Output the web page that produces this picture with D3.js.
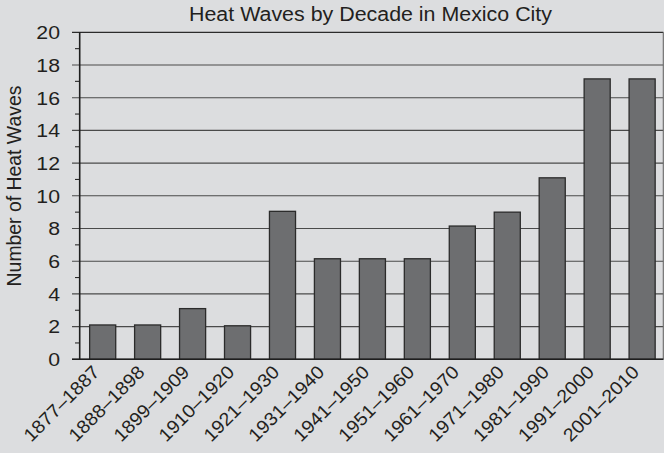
<!DOCTYPE html>
<html>
<head>
<meta charset="utf-8">
<script src="https://cdn.jsdelivr.net/npm/d3@7"></script>
<style>
  html, body { margin: 0; padding: 0; background: #dcdddf; }
  svg { display: block; }
  text { font-family: "Liberation Sans", Arial, Helvetica, sans-serif; fill: #231f20; }
</style>
</head>
<body>
<svg id="chart" width="664" height="453"></svg>
<script>
const categories = ["1877–1887","1888–1898","1899–1909","1910–1920","1921–1930","1931–1940","1941–1950","1951–1960","1961–1970","1971–1980","1981–1990","1991–2000","2001–2010"];
const heatWaves = [2.1, 2.1, 3.1, 2.05, 9.05, 6.15, 6.15, 6.15, 8.15, 9.0, 11.1, 17.15, 17.15];
const majorTicks = [0, 2, 4, 6, 8, 10, 12, 14, 16, 18, 20];
const minorTicks = [1, 3, 5, 7, 9, 11, 13, 15, 17, 19];
const titleText = "Heat Waves by Decade in Mexico City";
const yLabelText = "Number of Heat Waves";

(function () {
const svg = d3.select("#chart");
const W = 664, H = 453;
const pLeft = 79.7, pRight = 663.3, pTop = 32.3, pBottom = 359.3;

svg.append("rect").attr("width", W).attr("height", H).attr("fill", "#dcdddf");

const x = d3.scaleBand().domain(categories).range([80.2, 664.6]).paddingInner(0.42).paddingOuter(0.21);
const y = d3.scaleLinear().domain([0, 20]).range([pBottom, pTop]);

svg.append("g").selectAll("line").data(majorTicks).join("line")
  .attr("x1", 72).attr("x2", pRight)
  .attr("y1", d => y(d)).attr("y2", d => y(d))
  .attr("stroke", d => (d === 0 || d === 20) ? "#2b2b2b" : "#4a4a4a")
  .attr("stroke-width", d => (d === 0 || d === 20) ? 1.3 : 1.1);

svg.append("g").selectAll("line").data(minorTicks).join("line")
  .attr("x1", 75).attr("x2", pLeft)
  .attr("y1", d => y(d)).attr("y2", d => y(d))
  .attr("stroke", "#2b2b2b").attr("stroke-width", 1.1);

svg.append("g").selectAll("rect").data(categories).join("rect")
  .attr("x", d => x(d))
  .attr("y", (d, i) => y(heatWaves[i]))
  .attr("width", x.bandwidth())
  .attr("height", (d, i) => y(0) - y(heatWaves[i]))
  .attr("fill", "#6d6e70")
  .attr("stroke", "#2b2b2b")
  .attr("stroke-width", 1.3);

svg.append("line").attr("x1", pLeft).attr("x2", pLeft).attr("y1", pTop).attr("y2", pBottom + 0.6)
  .attr("stroke", "#1e1e1e").attr("stroke-width", 1.6);
svg.append("line").attr("x1", pRight).attr("x2", pRight).attr("y1", pTop).attr("y2", pBottom)
  .attr("stroke", "#6a6a6a").attr("stroke-width", 1.1);
svg.append("line").attr("x1", 72).attr("x2", pRight).attr("y1", pBottom).attr("y2", pBottom)
  .attr("stroke", "#1e1e1e").attr("stroke-width", 1.5);

svg.append("g").selectAll("text").data(majorTicks).join("text")
  .attr("transform", d => `translate(60,${y(d)}) scale(1.12,1)`)
  .attr("dy", "0.36em")
  .attr("text-anchor", "end")
  .attr("font-size", 19)
  .text(d => d);

svg.append("g").selectAll("text").data(categories).join("text")
  .attr("transform", d => `translate(${x(d) + x.bandwidth() / 2 - 2},${pBottom + 14}) rotate(-45) scale(1.06,1)`)
  .attr("text-anchor", "end")
  .attr("font-size", 18.5)
  .text(d => d);

svg.append("text").attr("transform", "translate(370.5,21.3) scale(1.07,1)")
  .attr("text-anchor", "middle").attr("font-size", 20)
  .text(titleText);

svg.append("text").attr("transform", `translate(21,186) rotate(-90)`)
  .attr("text-anchor", "middle").attr("font-size", 19.4)
  .text(yLabelText);
})();
</script>
</body>
</html>
